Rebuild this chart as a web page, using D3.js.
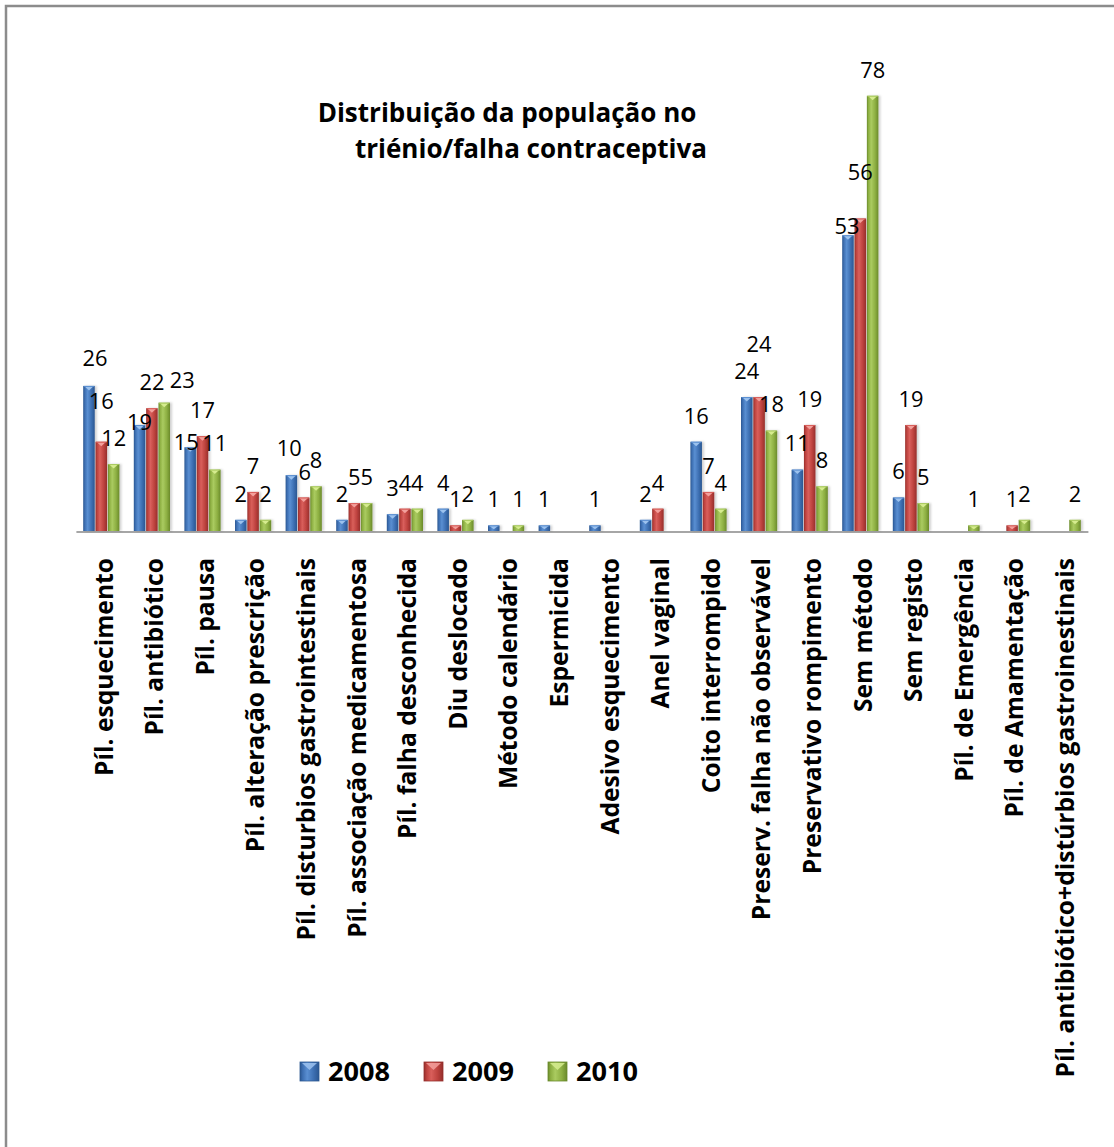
<!DOCTYPE html>
<html>
<head>
<meta charset="utf-8">
<script src="https://cdn.jsdelivr.net/npm/d3@7"></script>
<style>
  html, body { margin: 0; padding: 0; background: #fff; }
  svg { display: block; }
</style>
</head>
<body>
<script>
// Contraceptive failure counts per year, 2008–2010
const categories = [
  "Píl. esquecimento",
  "Píl. antibiótico",
  "Píl. pausa",
  "Píl. alteração prescrição",
  "Píl. disturbios gastrointestinais",
  "Píl. associação medicamentosa",
  "Píl. falha desconhecida",
  "Diu deslocado",
  "Método calendário",
  "Espermicida",
  "Adesivo esquecimento",
  "Anel vaginal",
  "Coito interrompido",
  "Preserv. falha não observável",
  "Preservativo rompimento",
  "Sem método",
  "Sem registo",
  "Píl. de Emergência",
  "Píl. de Amamentação",
  "Píl. antibiótico+distúrbios gastroinestinais"
];
const seriesNames = ["2008", "2009", "2010"];
const values2008 = [26, 19, 15, 2, 10, 2, 3, 4, 1, 1, 1, 2, 16, 24, 11, 53, 6, null, null, null];
const values2009 = [16, 22, 17, 7, 6, 5, 4, 1, null, null, null, 4, 7, 24, 19, 56, 19, null, 1, null];
const values2010 = [12, 23, 11, 2, 8, 5, 4, 2, 1, null, null, null, 4, 18, 8, 78, 5, 1, 2, 2];
const titleLines = ["Distribuição da população no", "triénio/falha contraceptiva"];

const seriesValues = [values2008, values2009, values2010];

// Palette (dark edge, body, highlight, bevel cap)
const palette = {
  "2008": { dark: "#2b5791", mid: "#3d6fb2", light: "#5a8fd2", cap: "#9cc2ee" },
  "2009": { dark: "#952f2c", mid: "#bd423e", light: "#d95f5b", cap: "#f3a09c" },
  "2010": { dark: "#6a8a2b", mid: "#8daf42", light: "#aacb60", cap: "#d6ec8f" }
};

// Manual nudges for a few data labels, in pixels [dx, dy]
const labelNudge = {
  "Píl. esquecimento|2008": [6, -2],
  "Píl. esquecimento|2009": [0, -15],
  "Píl. antibiótico|2008": [0, 23],
  "Píl. antibiótico|2010": [18, 3],
  "Píl. pausa|2008": [-4, 21],
  "Píl. disturbios gastrointestinais|2008": [-2, -1],
  "Píl. disturbios gastrointestinais|2009": [1, 1],
  "Preserv. falha não observável|2009": [0, -27],
  "Sem método|2008": [-1, 17],
  "Sem método|2009": [0, -20]
};

const W = 1114, H = 1147;
const FONT = "'Open Sans', 'Noto Sans', sans-serif";

const svg = d3.select("body").append("svg")
  .attr("width", W).attr("height", H);

// Pick a font size so that a sample string spans the wanted width
function fitSize(sample, weight, width) {
  const t = svg.append("text")
    .attr("font-family", FONT).attr("font-weight", weight)
    .attr("font-size", 20).text(sample);
  const len = t.node().getComputedTextLength();
  t.remove();
  return 20 * width / len;
}
const catSize = fitSize("Píl. esquecimento", "bold", 218);
const titleSize = fitSize(titleLines[0], "bold", 379);
const legendSize = fitSize("2008", "bold", 62);
const valueSize = fitSize("22", "normal", 25);

// Gradients for bevelled columns
const defs = svg.append("defs");
seriesNames.forEach(s => {
  const p = palette[s];
  const g = defs.append("linearGradient")
    .attr("id", "grad" + s)
    .attr("x1", "0%").attr("x2", "100%").attr("y1", "0%").attr("y2", "0%");
  [[0, p.dark], [0.14, p.mid], [0.38, p.light], [0.72, p.mid], [1, p.dark]]
    .forEach(([o, c]) => g.append("stop").attr("offset", o).attr("stop-color", c));
});
const shadow = defs.append("filter").attr("id", "shadow")
  .attr("x", "-50%").attr("y", "-10%").attr("width", "200%").attr("height", "120%");
shadow.append("feDropShadow")
  .attr("dx", 2).attr("dy", 0).attr("stdDeviation", 1.2)
  .attr("flood-color", "#000").attr("flood-opacity", 0.18);

// Outer frame
svg.append("path")
  .attr("d", `M6,${H + 5} V6 H${W + 5}`)
  .attr("fill", "none")
  .attr("stroke", "#8c8c8c")
  .attr("stroke-width", 2.5);

// Scales
const x0 = d3.scaleBand().domain(categories).range([76.4, 1088.4]).padding(0);
const x1 = d3.scaleBand().domain(seriesNames).range([6.8, 43.8]).padding(0);
const y = d3.scaleLinear().domain([0, 80]).range([531, 531 - 80 * 5.58]);

// Flattened data
const bars = [];
categories.forEach((c, i) => {
  seriesNames.forEach((s, j) => {
    const v = seriesValues[j][i];
    if (v !== null && v !== undefined) bars.push({ category: c, series: s, value: v });
  });
});

// Baseline (category axis line)
svg.append("line")
  .attr("x1", x0.range()[0]).attr("x2", x0.range()[1])
  .attr("y1", y(0) + 1).attr("y2", y(0) + 1)
  .attr("stroke", "#a6a6a6").attr("stroke-width", 2);

// Columns
const bw = x1.bandwidth() - 0.8;
const gBars = svg.append("g");
const barG = gBars.selectAll("g.bar").data(bars).join("g").attr("class", "bar");
barG.append("rect")
  .attr("x", d => x0(d.category) + x1(d.series))
  .attr("y", d => y(d.value))
  .attr("width", bw)
  .attr("height", d => y(0) - y(d.value))
  .attr("fill", d => `url(#grad${d.series})`)
  .attr("filter", "url(#shadow)");
// bevel cap on top of each column
barG.append("path")
  .attr("d", d => {
    const bx = x0(d.category) + x1(d.series);
    const by = y(d.value);
    const h = Math.min(4, (y(0) - by) * 0.6);
    return `M${bx + 1.5},${by + 0.5} L${bx + bw - 1.5},${by + 0.5} L${bx + bw / 2},${by + 0.5 + h} Z`;
  })
  .attr("fill", d => palette[d.series].cap);
barG.append("line")
  .attr("x1", d => x0(d.category) + x1(d.series) + 0.5)
  .attr("x2", d => x0(d.category) + x1(d.series) + bw - 0.5)
  .attr("y1", d => y(d.value) + 0.5)
  .attr("y2", d => y(d.value) + 0.5)
  .attr("stroke", d => palette[d.series].light)
  .attr("stroke-width", 1);

// Data labels
svg.append("g").selectAll("text").data(bars).join("text")
  .attr("x", d => {
    const n = labelNudge[d.category + "|" + d.series] || [0, 0];
    return x0(d.category) + x1(d.series) + bw / 2 + n[0];
  })
  .attr("y", d => {
    const n = labelNudge[d.category + "|" + d.series] || [0, 0];
    return y(d.value) - 26 + n[1];
  })
  .attr("dy", "0.36em")
  .attr("text-anchor", "middle")
  .attr("font-family", FONT)
  .attr("font-size", valueSize)
  .attr("fill", "#000")
  .text(d => d.value);

// Category labels (rotated)
svg.append("g").selectAll("text").data(categories).join("text")
  .attr("transform", d => `translate(${x0(d) + x0.bandwidth() / 2 + 2},558) rotate(-90)`)
  .attr("text-anchor", "end")
  .attr("dy", "0.36em")
  .attr("font-family", FONT)
  .attr("font-weight", "bold")
  .attr("font-size", catSize)
  .attr("fill", "#000")
  .text(d => d);

// Title
const titleX = [507, 531];
const titleY = [122, 158];
svg.append("g").selectAll("text").data(titleLines).join("text")
  .attr("x", (d, i) => titleX[i])
  .attr("y", (d, i) => titleY[i])
  .attr("text-anchor", "middle")
  .attr("font-family", FONT)
  .attr("font-weight", "bold")
  .attr("font-size", titleSize)
  .attr("fill", "#000")
  .text(d => d);

// Legend
const legendX = [300, 424, 548];
const legend = svg.append("g").selectAll("g").data(seriesNames).join("g")
  .attr("transform", (d, i) => `translate(${legendX[i]},1062)`);
legend.append("rect")
  .attr("width", 19).attr("height", 19)
  .attr("fill", d => `url(#grad${d})`)
  .attr("stroke", d => palette[d].dark).attr("stroke-width", 0.8);
legend.append("path")
  .attr("d", "M2,1 L17,1 L9.5,8 Z")
  .attr("fill", d => palette[d].cap)
  .attr("opacity", 0.85);
legend.append("text")
  .attr("x", 28).attr("y", 19)
  .attr("font-family", FONT)
  .attr("font-weight", "bold")
  .attr("font-size", legendSize)
  .attr("fill", "#000")
  .text(d => d);
</script>
</body>
</html>
